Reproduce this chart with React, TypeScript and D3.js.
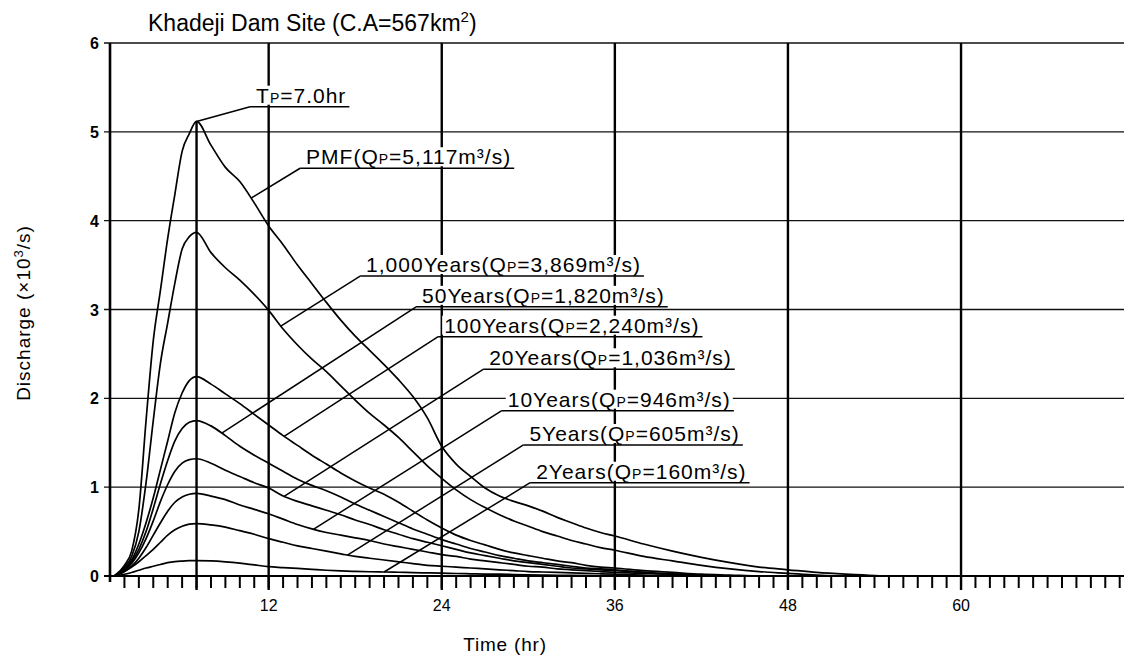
import React, { useEffect, useRef } from "react";
import * as d3 from "d3";

const W = 1124;
const H = 659;

// ---------- data ----------
const times = [
  1.3, 2, 2.5, 3, 3.5, 4, 4.5, 5, 5.5, 6, 6.5, 7,
  8, 9, 10, 11, 12, 13, 14, 15, 16, 17, 18, 19, 20, 21, 22, 23, 24, 25, 26, 27, 28, 29, 30, 31, 32, 33, 34, 35, 36,
  38, 40, 42, 44, 46, 48, 50, 52, 54, 56,
];

const qPMF = [
  0, 0.12, 0.28, 0.75, 1.75, 2.65, 3.22, 3.8, 4.3, 4.78, 4.98, 5.117,
  4.85, 4.6, 4.44, 4.2, 3.94, 3.73, 3.5, 3.29, 3.08, 2.88, 2.7, 2.54, 2.38, 2.21, 2.02, 1.78, 1.46, 1.26, 1.12, 0.99, 0.9, 0.84, 0.79, 0.73, 0.66, 0.6, 0.54, 0.49, 0.45,
  0.36, 0.28, 0.21, 0.15, 0.1, 0.07, 0.04, 0.02, 0.005, 0,
];
const q1000 = [
  0, 0.1, 0.22, 0.5, 1.05, 1.75, 2.4, 2.85, 3.3, 3.68, 3.82, 3.869,
  3.64, 3.47, 3.33, 3.17, 2.99, 2.78, 2.6, 2.44, 2.3, 2.14, 1.98, 1.83, 1.7, 1.56, 1.4, 1.24, 1.1, 0.97, 0.86, 0.77, 0.69, 0.62, 0.56, 0.5, 0.45, 0.4, 0.36, 0.32, 0.29,
  0.22, 0.17, 0.12, 0.08, 0.05, 0.03, 0.01, 0, 0, 0,
];
const q100 = [
  0, 0.08, 0.18, 0.36, 0.6, 0.88, 1.2, 1.52, 1.84, 2.06, 2.2, 2.245,
  2.16, 2.05, 1.94, 1.82, 1.7, 1.58, 1.47, 1.36, 1.26, 1.16, 1.07, 0.99, 0.92, 0.83, 0.73, 0.63, 0.54, 0.46, 0.4, 0.35, 0.3, 0.26, 0.23, 0.2, 0.17, 0.15, 0.12, 0.1, 0.09,
  0.06, 0.04, 0.02, 0.01, 0, 0, 0, 0, 0, 0,
];
const q50 = [
  0, 0.07, 0.16, 0.3, 0.5, 0.76, 1.04, 1.3, 1.52, 1.66, 1.73, 1.75,
  1.69, 1.58, 1.46, 1.36, 1.27, 1.18, 1.09, 1.02, 0.96, 0.89, 0.81, 0.74, 0.67, 0.6, 0.53, 0.47, 0.41, 0.36, 0.31, 0.27, 0.23, 0.2, 0.17, 0.15, 0.13, 0.11, 0.09, 0.08, 0.07,
  0.04, 0.02, 0.01, 0, 0, 0, 0, 0, 0, 0,
];
const q20 = [
  0, 0.06, 0.14, 0.26, 0.42, 0.62, 0.84, 1.03, 1.18, 1.27, 1.31, 1.32,
  1.27, 1.19, 1.12, 1.05, 0.99, 0.9, 0.84, 0.79, 0.74, 0.69, 0.63, 0.58, 0.52, 0.47, 0.42, 0.38, 0.34, 0.3, 0.26, 0.23, 0.2, 0.17, 0.15, 0.13, 0.11, 0.09, 0.08, 0.07, 0.06,
  0.04, 0.02, 0.01, 0, 0, 0, 0, 0, 0, 0,
];
const q10 = [
  0, 0.05, 0.11, 0.2, 0.32, 0.46, 0.6, 0.73, 0.83, 0.89, 0.92, 0.93,
  0.9, 0.86, 0.8, 0.75, 0.7, 0.64, 0.58, 0.53, 0.49, 0.46, 0.43, 0.4, 0.36, 0.33, 0.3, 0.27, 0.24, 0.22, 0.19, 0.17, 0.15, 0.13, 0.11, 0.1, 0.08, 0.07, 0.06, 0.05, 0.04,
  0.03, 0.02, 0.01, 0, 0, 0, 0, 0, 0, 0,
];
const q5 = [
  0, 0.05, 0.1, 0.16, 0.23, 0.3, 0.38, 0.46, 0.52, 0.56, 0.585, 0.59,
  0.575, 0.55, 0.51, 0.47, 0.42, 0.38, 0.34, 0.31, 0.28, 0.25, 0.22, 0.2, 0.18, 0.16, 0.14, 0.12, 0.11, 0.1, 0.09, 0.08, 0.07, 0.06, 0.05, 0.045, 0.04, 0.035, 0.03, 0.025, 0.02,
  0.01, 0, 0, 0, 0, 0, 0, 0, 0, 0,
];
const q2 = [
  0, 0.02, 0.04, 0.065, 0.09, 0.11, 0.13, 0.15, 0.162, 0.168, 0.172, 0.173,
  0.17, 0.16, 0.145, 0.125, 0.105, 0.095, 0.085, 0.075, 0.065, 0.057, 0.052, 0.048, 0.045, 0.042, 0.038, 0.035, 0.032, 0.028, 0.025, 0.022, 0.02, 0.017, 0.014, 0.011, 0.008, 0.006, 0.004, 0.002, 0,
  0, 0, 0, 0, 0, 0, 0, 0, 0, 0,
];

const seriesValues = [qPMF, q1000, q100, q50, q20, q10, q5, q2];
const seriesNames = ["PMF", "1,000Years", "100Years", "50Years", "20Years", "10Years", "5Years", "2Years"];
const seriesQp = ["5,117", "3,869", "2,240", "1,820", "1,036", "946", "605", "160"];

// label anchors (start of underline), in hours / 10^3 m3/s
const labelT = [14.18, 18.34, 23.75, 22.22, 26.87, 28.16, 29.66, 30.13];
const labelQ = [4.59, 3.377, 2.694, 3.03, 2.327, 1.861, 1.475, 1.05];
// where each leader line meets its hydrograph (hours)
const leaderT = [10.78, 12.84, 13.07, 8.75, 13.07, 15.1, 17.46, 20.0];

const peakTime = 7;
const tpLabelT = 10.71;
const tpLabelQ = 5.283;

const yTicks = [0, 1, 2, 3, 4, 5, 6];
const xTickLabels = [12, 24, 36, 48, 60];
const vGrid = [12, 24, 36, 48, 60];

const FONT = "'Liberation Sans', Arial, sans-serif";

function valueAt(vals: number[], t: number) {
  const i = d3.bisectRight(times, t) - 1;
  if (i < 0) return vals[0];
  if (i >= times.length - 1) return vals[times.length - 1];
  const f = (t - times[i]) / (times[i + 1] - times[i]);
  return vals[i] + f * (vals[i + 1] - vals[i]);
}

export default function App() {
  const ref = useRef<SVGSVGElement>(null);

  useEffect(() => {
    document.body.style.margin = "0";
    const svg = d3.select(ref.current);
    svg.selectAll("*").remove();

    const x = d3.scaleLinear().domain([1, 71]).range([110, 1119.7]);
    const y = d3.scaleLinear().domain([0, 6]).range([576, 43]);

    svg.append("rect").attr("width", W).attr("height", H).attr("fill", "#fff");

    const grid = svg.append("g");
    grid
      .selectAll("line.h")
      .data(yTicks.filter((d) => d > 0))
      .join("line")
      .attr("x1", x(1) - 6)
      .attr("x2", W)
      .attr("y1", (d) => y(d))
      .attr("y2", (d) => y(d))
      .attr("stroke", "#111")
      .attr("stroke-width", 1.3);

    grid
      .selectAll("line.v")
      .data(vGrid)
      .join("line")
      .attr("x1", (d) => x(d))
      .attr("x2", (d) => x(d))
      .attr("y1", y(6))
      .attr("y2", y(0) + 14)
      .attr("stroke", "#000")
      .attr("stroke-width", 2.4);

    grid
      .append("line")
      .attr("x1", x(peakTime))
      .attr("x2", x(peakTime))
      .attr("y1", y(valueAt(qPMF, peakTime)))
      .attr("y2", y(0) + 14)
      .attr("stroke", "#000")
      .attr("stroke-width", 2.4);

    grid
      .selectAll("line.t")
      .data(d3.range(2, 72))
      .join("line")
      .attr("x1", (d) => x(d))
      .attr("x2", (d) => x(d))
      .attr("y1", y(0))
      .attr("y2", y(0) + 12)
      .attr("stroke", "#000")
      .attr("stroke-width", 2);

    grid
      .append("line")
      .attr("x1", x(1))
      .attr("x2", x(1))
      .attr("y1", y(6))
      .attr("y2", y(0) + 6)
      .attr("stroke", "#000")
      .attr("stroke-width", 2.6);
    grid
      .append("line")
      .attr("x1", x(1) - 6)
      .attr("x2", W)
      .attr("y1", y(0))
      .attr("y2", y(0))
      .attr("stroke", "#000")
      .attr("stroke-width", 2.2);

    svg
      .append("g")
      .selectAll("text")
      .data(yTicks)
      .join("text")
      .attr("x", x(1) - 11)
      .attr("y", (d) => y(d) + 6)
      .attr("text-anchor", "end")
      .attr("font-family", FONT)
      .attr("font-weight", "bold")
      .attr("font-size", 16)
      .text((d) => String(d));

    svg
      .append("g")
      .selectAll("text")
      .data(xTickLabels)
      .join("text")
      .attr("x", (d) => x(d))
      .attr("y", 611)
      .attr("text-anchor", "middle")
      .attr("font-family", FONT)
      .attr("font-size", 16)
      .text((d) => String(d));

    const title = svg
      .append("text")
      .attr("x", 148)
      .attr("y", 31)
      .attr("font-family", FONT)
      .attr("font-size", 23);
    title.append("tspan").text("Khadeji  Dam Site (C.A=567km");
    title.append("tspan").attr("font-size", 15).attr("dy", -9).text("2");
    title.append("tspan").attr("dy", 9).text(")");

    svg
      .append("text")
      .attr("x", 505)
      .attr("y", 651)
      .attr("text-anchor", "middle")
      .attr("font-family", FONT)
      .attr("font-size", 19)
      .attr("letter-spacing", 0.8)
      .text("Time (hr)");

    const yl = svg
      .append("text")
      .attr("transform", "translate(30,313) rotate(-90)")
      .attr("text-anchor", "middle")
      .attr("font-family", FONT)
      .attr("font-size", 19)
      .attr("letter-spacing", 1);
    yl.append("tspan").text("Discharge (×10");
    yl.append("tspan").attr("font-size", 13).attr("dy", -7).text("3");
    yl.append("tspan").attr("dy", 7).text("/s)");

    const line = d3
      .line<number>()
      .x((_, i) => x(times[i]))
      .y((d) => y(d))
      .curve(d3.curveMonotoneX);

    const labelLayer = svg.append("g");
    const curveLayer = svg.append("g");
    const annLayer = svg.append("g");

    curveLayer
      .selectAll("path")
      .data(seriesValues)
      .join("path")
      .attr("d", (d) => line(d))
      .attr("fill", "none")
      .attr("stroke", "#000")
      .attr("stroke-width", 1.7)
      .attr("stroke-linejoin", "round");

    type Lab = { t: number; q: number; tt: number; tq: number; parts: [string, string, string] };
    const labs: Lab[] = seriesNames.map((n, i) => ({
      t: labelT[i],
      q: labelQ[i],
      tt: leaderT[i],
      tq: valueAt(seriesValues[i], leaderT[i]),
      parts: [`${n}(Q`, "P", `=${seriesQp[i]}m³/s)`],
    }));
    labs.unshift({
      t: tpLabelT,
      q: tpLabelQ,
      tt: peakTime,
      tq: valueAt(qPMF, peakTime),
      parts: ["T", "P", "=7.0hr"],
    });

    labs.forEach((L) => {
      const ux = x(L.t);
      const uy = y(L.q);
      const txt = annLayer
        .append("text")
        .attr("x", ux + 6)
        .attr("y", uy - 4)
        .attr("font-family", FONT)
        .attr("font-size", 21)
        .attr("letter-spacing", 1);
      txt.append("tspan").text(L.parts[0]);
      txt.append("tspan").attr("font-size", 14).text(L.parts[1]);
      txt.append("tspan").text(L.parts[2]);
      const node = txt.node() as SVGTextElement;
      const bb = node.getBBox();
      labelLayer
        .append("rect")
        .attr("x", bb.x - 2)
        .attr("y", bb.y + 2)
        .attr("width", bb.width + 4)
        .attr("height", bb.height - 4)
        .attr("fill", "#fff");
      annLayer
        .append("line")
        .attr("x1", ux)
        .attr("x2", bb.x + bb.width + 3)
        .attr("y1", uy)
        .attr("y2", uy)
        .attr("stroke", "#000")
        .attr("stroke-width", 1.5);
      annLayer
        .append("line")
        .attr("x1", ux)
        .attr("y1", uy)
        .attr("x2", x(L.tt))
        .attr("y2", y(L.tq))
        .attr("stroke", "#000")
        .attr("stroke-width", 1.5);
    });
  }, []);

  return <svg ref={ref} width={W} height={H} style={{ display: "block" }} />;
}
